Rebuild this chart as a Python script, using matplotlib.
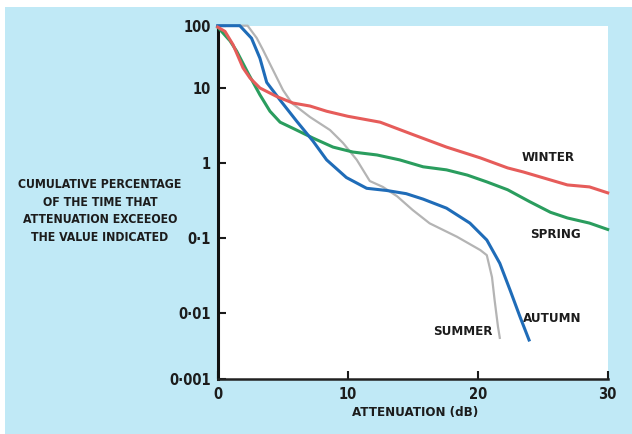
import matplotlib
matplotlib.use("Agg")
import matplotlib.pyplot as plt
from matplotlib.patches import Rectangle
import numpy as np

# attenuation (dB) vs cumulative % of time exceeded
winter_db = [0, 0.56, 1.18, 1.95, 2.48, 3.25, 4.54, 5.79, 7.1, 8.38, 10.0, 12.5, 15.0,
             17.6, 20.2, 22.3, 23.5, 26.9, 28.6, 30]
winter_pct = [95, 81, 49.5, 21, 14.5, 10, 7.7, 6.3, 5.75, 4.9, 4.2, 3.5, 2.4,
              1.63, 1.17, 0.86, 0.76, 0.51, 0.48, 0.40]

spring_db = [0, 0.95, 1.46, 2.33, 3.25, 4.02, 4.8, 5.79, 7.33, 8.87, 10.4, 12.25, 14.0,
             15.8, 17.6, 19.2, 20.7, 22.3, 24.0, 25.6, 26.9, 28.6, 30]
spring_pct = [95, 57, 39, 17.4, 8.1, 4.9, 3.5, 2.9, 2.15, 1.63, 1.4, 1.28, 1.1,
              0.89, 0.81, 0.69, 0.56, 0.44, 0.305, 0.22, 0.185, 0.158, 0.13]

autumn_db = [0, 1.7, 2.6, 3.25, 3.77, 4.8, 6.08, 7.33, 8.38, 9.9, 11.46, 13.0, 14.5,
             15.8, 17.6, 19.4, 20.7, 21.7, 22.5, 23.25, 23.95]
autumn_pct = [100, 100, 63, 30, 12.3, 6.9, 3.6, 1.96, 1.1, 0.64, 0.46, 0.43, 0.39,
              0.33, 0.25, 0.158, 0.094, 0.046, 0.020, 0.0088, 0.0039]

summer_db = [0, 2.3, 3.0, 3.48, 4.25, 5.02, 5.7, 7.1, 8.64, 9.64, 10.7, 11.7, 12.7,
             13.8, 15.0, 16.3, 18.4, 20.2, 20.7, 21.1, 21.3, 21.56, 21.7]
summer_pct = [100, 100, 63.5, 41, 19.5, 9.4, 6.3, 4.1, 2.75, 1.85, 1.1, 0.575, 0.48,
              0.36, 0.236, 0.157, 0.104, 0.069, 0.059, 0.030, 0.0149, 0.0062, 0.0042]

y_ticks = [0.001, 0.01, 0.1, 1, 10, 100]
y_ticklabels = ["0·001", "0·01", "0·1", "1", "10", "100"]
x_ticks = [0, 10, 20, 30]

# the printed decades are not evenly spaced, so use a piecewise log scale
DEC_LOG = [-4, -3, -2, -1, 0, 1, 2, 3]
DEC_POS = [-66, 0, 66, 141, 216, 291, 353.3, 415.6]


def fwd(v):
    v = np.clip(np.asarray(v, dtype=float), 1e-12, None)
    return np.interp(np.log10(v), DEC_LOG, DEC_POS)


def inv(p):
    return 10 ** np.interp(np.asarray(p, dtype=float), DEC_POS, DEC_LOG)


TXT = "#1c1c1c"
plt.rcParams["font.family"] = ["DejaVu Sans"]
plt.rcParams["font.stretch"] = "condensed"
plt.rcParams["font.weight"] = "bold"

fig = plt.figure(figsize=(6.32, 4.34), dpi=100)
fig.patch.set_facecolor("white")
fig.patches.append(Rectangle((5 / 632, 0), 1, (434 - 7) / 434, transform=fig.transFigure,
                             facecolor="#c0e9f6", edgecolor="none", zorder=-1))

ax = fig.add_axes([217.7 / 632, 55 / 434, 390 / 632, 353.3 / 434])
ax.set_facecolor("white")
ax.set_yscale("function", functions=(fwd, inv))
ax.set_xlim(0, 30)
ax.set_ylim(0.001, 100)

ax.plot(summer_db, summer_pct, color="#b4b4b4", lw=1.6, clip_on=False, zorder=3)
ax.plot(spring_db, spring_pct, color="#2a9d5e", lw=2.2, clip_on=False, zorder=4)
ax.plot(autumn_db, autumn_pct, color="#1f6cb8", lw=2.2, clip_on=False, zorder=5)
ax.plot(winter_db, winter_pct, color="#e65c5a", lw=2.2, clip_on=False, zorder=6)

lab = dict(fontsize=9.5, color=TXT, ha="center", va="center")
ax.text(25.4, 1.2, "WINTER", **lab)
ax.text(26.0, 0.113, "SPRING", **lab)
ax.text(25.7, 0.0083, "AUTUMN", **lab)
ax.text(18.86, 0.0053, "SUMMER", **lab)

ax.set_yticks(y_ticks)
ax.set_yticklabels(y_ticklabels)
ax.yaxis.set_minor_locator(matplotlib.ticker.NullLocator())
ax.set_xticks(x_ticks)
ax.tick_params(direction="in", length=6, width=1.5, colors="#1a1a1a", labelsize=10.5,
               labelcolor=TXT)
ax.tick_params(axis="y", pad=5)
ax.tick_params(axis="x", pad=6)

for s in ["top", "right"]:
    ax.spines[s].set_visible(False)
ax.spines["left"].set_linewidth(2.2)
ax.spines["left"].set_color("#111111")
ax.spines["bottom"].set_linewidth(1.8)
ax.spines["bottom"].set_color("#222222")

ax.set_xlabel("ATTENUATION (dB)", fontsize=9.5, fontweight="bold", color=TXT)
ax.xaxis.set_label_coords((415.5 - 217.7) / 390, -(406 - 379) / 353.3)

fig.text(100 / 632, 1 - 211 / 434,
         "CUMULATIVE PERCENTAGE\nOF THE TIME THAT\nATTENUATION EXCEEOEO\nTHE VALUE INDICATED",
         fontsize=8.8, color=TXT, ha="center", va="center", multialignment="center",
         linespacing=1.45)

fig.savefig("out.png", dpi=100)
